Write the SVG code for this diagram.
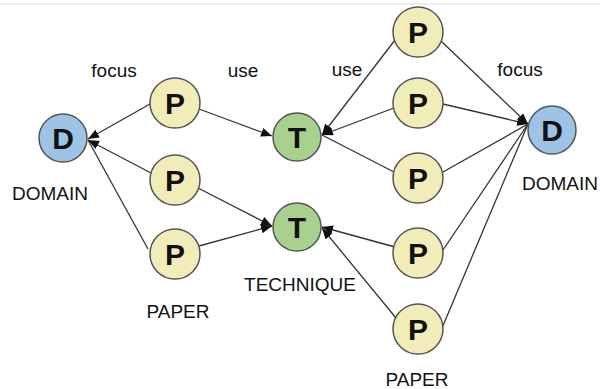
<svg xmlns="http://www.w3.org/2000/svg" width="600" height="389" viewBox="0 0 600 389">
<defs>
<marker id="arr" markerUnits="userSpaceOnUse" markerWidth="12" markerHeight="10" refX="11" refY="4.5" orient="auto">
<path d="M0,0 L11,4.5 L0,9 Z" fill="#111"/>
</marker>
<style>
.e{stroke:#333;stroke-width:1.3;fill:none}
.a{marker-end:url(#arr)}
.p{fill:#f2edb8;stroke:#555;stroke-width:1.5}
.d{fill:#9dc3e6;stroke:#555;stroke-width:1.5}
.t{fill:#a9d18e;stroke:#555;stroke-width:1.5}
.g{font-family:"Liberation Sans",Arial,sans-serif;font-weight:bold;font-size:30px;text-anchor:middle;fill:#111}
.l{font-family:"Liberation Sans",Arial,sans-serif;font-size:19px;text-anchor:middle;fill:#111}
</style>
</defs>
<rect width="600" height="389" fill="#fff"/>
<rect x="0" y="3" width="600" height="2" fill="#eeeeee"/>
<g id="connectors">
<line class="e a" x1="150" y1="104" x2="88" y2="139"/>
<line class="e a" x1="151" y1="173" x2="88" y2="140"/>
<line class="e" x1="148" y1="249" x2="88" y2="140"/>
<line class="e a" x1="199" y1="109" x2="272" y2="136"/>
<line class="e a" x1="198" y1="188" x2="272" y2="226"/>
<line class="e a" x1="199" y1="246" x2="272" y2="226"/>
<line class="e a" x1="395" y1="40" x2="322" y2="135"/>
<line class="e a" x1="394" y1="108" x2="322" y2="135"/>
<line class="e" x1="394" y1="172" x2="322" y2="135"/>
<line class="e a" x1="441" y1="41" x2="528" y2="124"/>
<line class="e a" x1="443" y1="104" x2="528" y2="124"/>
<line class="e" x1="443" y1="172" x2="528" y2="124"/>
<line class="e" x1="443" y1="250" x2="528" y2="124"/>
<line class="e" x1="442" y1="328" x2="528" y2="124"/>
<line class="e a" x1="395" y1="247" x2="322" y2="227"/>
<line class="e a" x1="396" y1="318" x2="322" y2="228"/>
</g>
<g id="domain-left"><circle class="d" cx="63" cy="138" r="24"/><text class="g" x="63" y="149">D</text></g>
<g id="paper-l1"><circle class="p" cx="175" cy="103" r="25"/><text class="g" x="175" y="114">P</text></g>
<g id="paper-l2"><circle class="p" cx="175" cy="180" r="25"/><text class="g" x="175" y="191">P</text></g>
<g id="paper-l3"><circle class="p" cx="175" cy="254" r="25"/><text class="g" x="175" y="265">P</text></g>
<g id="tech-1"><circle class="t" cx="297" cy="137" r="24"/><text class="g" x="297" y="148">T</text></g>
<g id="tech-2"><circle class="t" cx="297" cy="227" r="24"/><text class="g" x="297" y="238">T</text></g>
<g id="paper-r1"><circle class="p" cx="418" cy="32" r="25"/><text class="g" x="418" y="43">P</text></g>
<g id="paper-r2"><circle class="p" cx="418" cy="103" r="25"/><text class="g" x="418" y="114">P</text></g>
<g id="paper-r3"><circle class="p" cx="418" cy="178" r="25"/><text class="g" x="418" y="189">P</text></g>
<g id="paper-r4"><circle class="p" cx="418" cy="253" r="25"/><text class="g" x="418" y="264">P</text></g>
<g id="paper-r5"><circle class="p" cx="418" cy="329" r="25"/><text class="g" x="418" y="340">P</text></g>
<g id="domain-right"><circle class="d" cx="552" cy="130" r="24"/><text class="g" x="552" y="141">D</text></g>
<g id="labels">
<text class="l" x="114" y="77">focus</text>
<text class="l" x="243" y="77">use</text>
<text class="l" x="347" y="76">use</text>
<text class="l" x="520" y="76">focus</text>
<text class="l" x="50" y="200">DOMAIN</text>
<text class="l" x="560" y="190">DOMAIN</text>
<text class="l" x="300" y="291">TECHNIQUE</text>
<text class="l" x="178" y="318">PAPER</text>
<text class="l" x="417" y="386">PAPER</text>
</g>
</svg>
